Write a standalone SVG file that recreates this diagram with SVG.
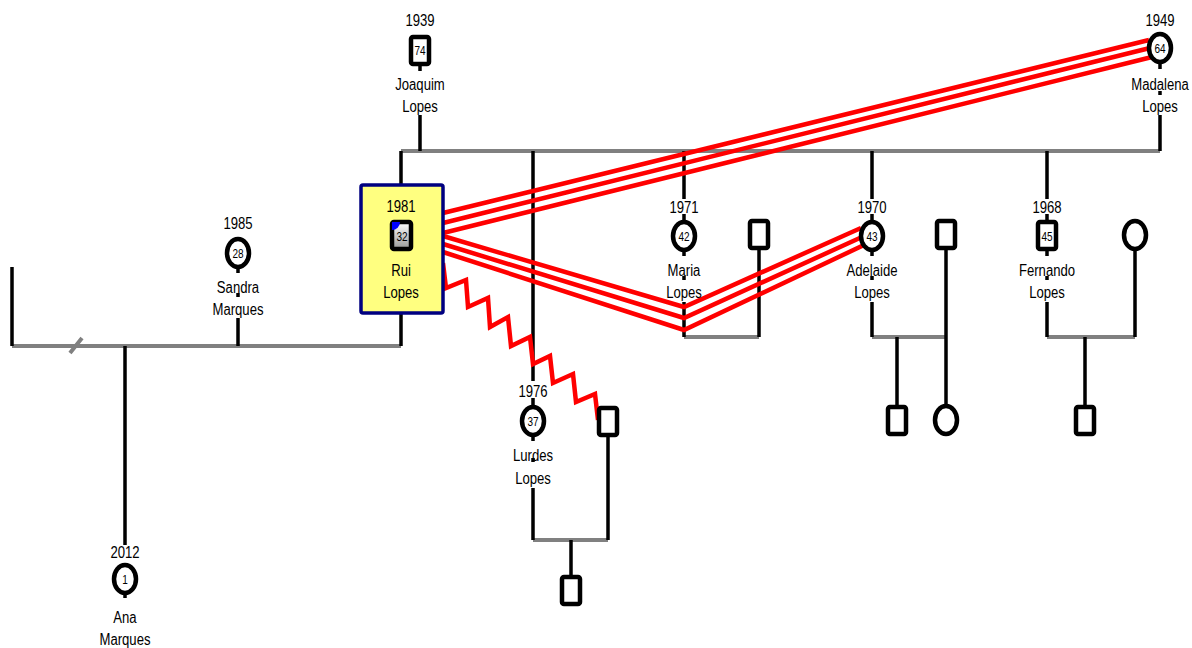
<svg xmlns="http://www.w3.org/2000/svg" width="1192" height="648" viewBox="0 0 1192 648">
<style>
.t{font-family:"Liberation Sans",Arial,sans-serif;font-size:16px;fill:#000;text-anchor:middle}
.n{font-family:"Liberation Sans",Arial,sans-serif;font-size:12.5px;fill:#000;text-anchor:middle}
.sym{fill:#fff;stroke:#000;stroke-width:4.5}
.bl{stroke:#000;stroke-width:3.5;fill:none}
.gr{stroke:#808080;stroke-width:4;fill:none}
.rd{stroke:#ff0000;stroke-width:4.5;fill:none;stroke-linejoin:miter}
</style>
<defs>
<linearGradient id="g" x1="0" y1="0" x2="0" y2="1"><stop offset="0" stop-color="#ffffff"/><stop offset="1" stop-color="#999999"/></linearGradient>
</defs>
<rect width="1192" height="648" fill="#fff"/>
<g id="connectors">
<path class="gr" d="M401,151H1160M684,337H759M872,337H946M1047,337H1135M533,540H608M12,346H401M70,353L82,338"/>
<path class="bl" d="M420,64V71M420,115V151M1160,62V69M1160,91V95M1160,115V151"/>
<path class="bl" d="M401,151V185M401,313V346M12,267V346M125,346V545"/>
<path class="bl" d="M238,267V273M238,293V297M238,318V346"/>
<path class="bl" d="M125,593V598"/>
<path class="bl" d="M533,151V381M533,398V407M533,435V441M533,458V462M533,488V540M608,435V540M571,540V577"/>
<path class="bl" d="M684,151V199M684,214V222M684,250V256M684,276V280M684,302V337M759,248V337"/>
<path class="bl" d="M872,151V199M872,214V222M872,250V256M872,276V280M872,302V337M946,248V406M897,337V407"/>
<path class="bl" d="M1047,151V199M1047,214V221M1047,249V256M1047,276V280M1047,302V337M1135,249V337M1085,337V407"/>
<path class="rd" d="M443,213L1149,40M443,223L1150,48M443,233L1152,57"/>
<path class="rd" d="M443,236L684,307L861,228M443,244L684,318L862,237M443,252L684,330L864,245"/>
<polyline class="rd" points="443,263 446,288 466,280 468,307 488,298 490,327 508,317 511,346 530,337 533,364 550,356 553,383 573,374 576,402 595,394 598,420"/>
</g>
<g id="joaquim">
<text class="t" transform="translate(420,26) scale(.82,1)">1939</text>
<rect class="sym" x="411" y="37" width="18" height="27" rx="2"/>
<text class="n" transform="translate(420,55) scale(.8,1)">74</text>
<text class="t" transform="translate(420,90) scale(.82,1)">Joaquim</text>
<text class="t" transform="translate(420,112) scale(.82,1)">Lopes</text>
</g>
<g id="madalena">
<text class="t" transform="translate(1160,26) scale(.82,1)">1949</text>
<ellipse class="sym" cx="1160" cy="48" rx="11" ry="14"/>
<text class="n" transform="translate(1160,53) scale(.8,1)">64</text>
<text class="t" transform="translate(1160,90) scale(.82,1)">Madalena</text>
<text class="t" transform="translate(1160,112) scale(.82,1)">Lopes</text>
</g>
<g id="rui">
<rect x="361" y="185" width="82" height="128" rx="2" fill="#ffff80" stroke="#000080" stroke-width="3.5"/>
<text class="t" transform="translate(401,212) scale(.82,1)">1981</text>
<rect x="392" y="222" width="19" height="27" rx="2" fill="url(#g)" stroke="#000" stroke-width="4.5"/>
<path d="M392,222H400A8,8 0 0 1 392,230Z" fill="#0000ff"/>
<text class="n" transform="translate(402,241) scale(.8,1)">32</text>
<text class="t" transform="translate(401,276) scale(.82,1)">Rui</text>
<text class="t" transform="translate(401,298) scale(.82,1)">Lopes</text>
</g>
<g id="sandra">
<text class="t" transform="translate(238,229) scale(.82,1)">1985</text>
<ellipse class="sym" cx="238" cy="253" rx="11" ry="14"/>
<text class="n" transform="translate(238,258) scale(.8,1)">28</text>
<text class="t" transform="translate(238,293) scale(.82,1)">Sandra</text>
<text class="t" transform="translate(238,315) scale(.82,1)">Marques</text>
</g>
<g id="ana">
<text class="t" transform="translate(125,558) scale(.82,1)">2012</text>
<ellipse class="sym" cx="125" cy="579" rx="11" ry="14"/>
<text class="n" transform="translate(125,584) scale(.8,1)">1</text>
<text class="t" transform="translate(125,623) scale(.82,1)">Ana</text>
<text class="t" transform="translate(125,645) scale(.82,1)">Marques</text>
</g>
<g id="lurdes">
<text class="t" transform="translate(533,397) scale(.82,1)">1976</text>
<ellipse class="sym" cx="533" cy="421" rx="11" ry="14"/>
<text class="n" transform="translate(533,426) scale(.8,1)">37</text>
<text class="t" transform="translate(533,461) scale(.82,1)">Lurdes</text>
<text class="t" transform="translate(533,484) scale(.82,1)">Lopes</text>
</g>
<g id="lurdes-partner"><rect class="sym" x="599" y="408" width="18" height="27" rx="2"/></g>
<g id="lurdes-child"><rect class="sym" x="562" y="577" width="18" height="27" rx="2"/></g>
<g id="maria">
<text class="t" transform="translate(684,213) scale(.82,1)">1971</text>
<ellipse class="sym" cx="684" cy="236" rx="11" ry="14"/>
<text class="n" transform="translate(684,241) scale(.8,1)">42</text>
<text class="t" transform="translate(684,276) scale(.82,1)">Maria</text>
<text class="t" transform="translate(684,298) scale(.82,1)">Lopes</text>
</g>
<g id="maria-partner"><rect class="sym" x="750" y="221" width="18" height="27" rx="2"/></g>
<g id="adelaide">
<text class="t" transform="translate(872,213) scale(.82,1)">1970</text>
<ellipse class="sym" cx="872" cy="236" rx="11" ry="14"/>
<text class="n" transform="translate(872,241) scale(.8,1)">43</text>
<text class="t" transform="translate(872,276) scale(.82,1)">Adelaide</text>
<text class="t" transform="translate(872,298) scale(.82,1)">Lopes</text>
</g>
<g id="adelaide-partner"><rect class="sym" x="937" y="221" width="18" height="27" rx="2"/></g>
<g id="adelaide-son"><rect class="sym" x="888" y="407" width="18" height="27" rx="2"/></g>
<g id="adelaide-daughter"><ellipse class="sym" cx="946" cy="420" rx="11" ry="14"/></g>
<g id="fernando">
<text class="t" transform="translate(1047,213) scale(.82,1)">1968</text>
<rect class="sym" x="1038" y="222" width="18" height="27" rx="2"/>
<text class="n" transform="translate(1047,241) scale(.8,1)">45</text>
<text class="t" transform="translate(1047,276) scale(.82,1)">Fernando</text>
<text class="t" transform="translate(1047,298) scale(.82,1)">Lopes</text>
</g>
<g id="fernando-partner"><ellipse class="sym" cx="1135" cy="235" rx="11" ry="14"/></g>
<g id="fernando-child"><rect class="sym" x="1076" y="407" width="18" height="27" rx="2"/></g>
</svg>
